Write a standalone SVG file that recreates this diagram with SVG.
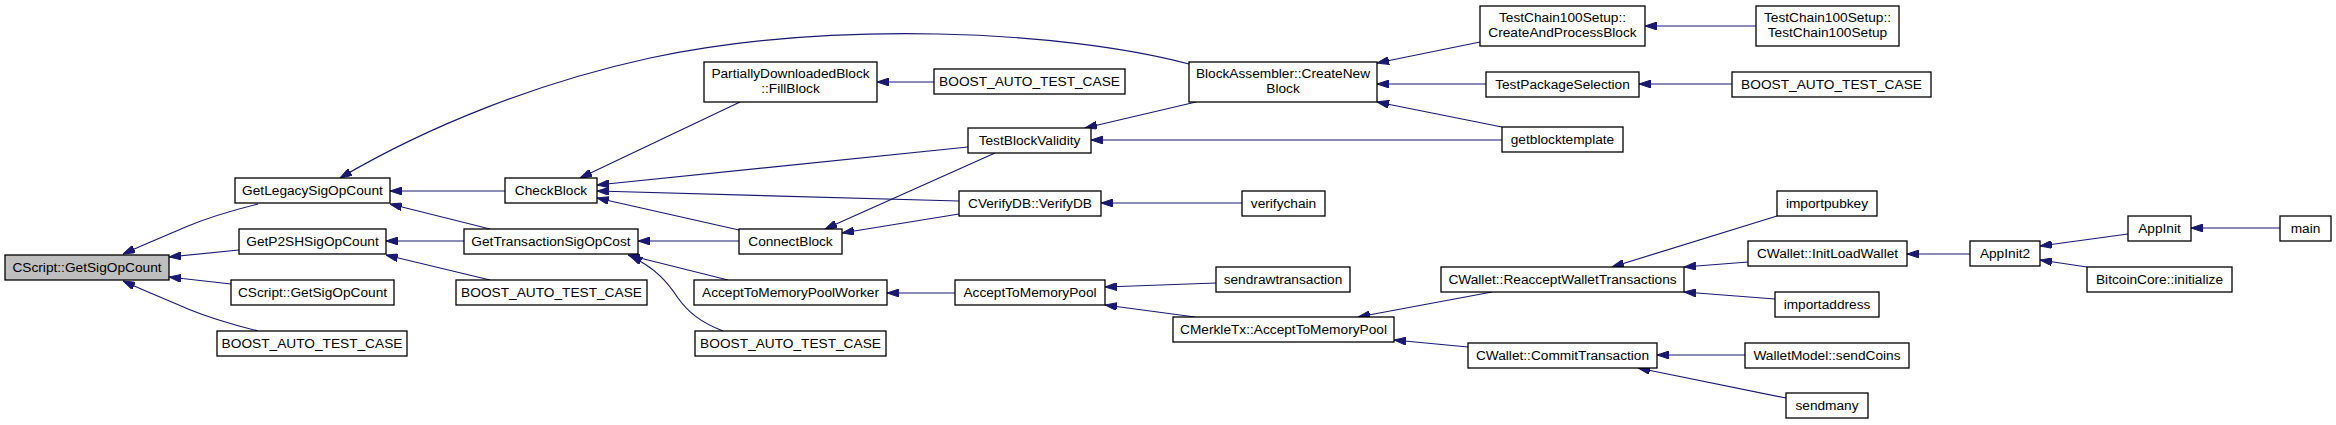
<svg xmlns="http://www.w3.org/2000/svg" width="2336" height="425" viewBox="0 0 2336 425">
<style>
.n rect{fill:#ffffff;stroke:#000000;stroke-width:1.3}
.n.root rect{fill:#bfbfbf}
.n text{font-family:"Liberation Sans",Arial,sans-serif;font-size:13.7px;fill:#000000;text-anchor:middle}
.e path{fill:none;stroke:#191970;stroke-width:1.2;marker-end:url(#ah)}
</style>
<defs>
<marker id="ah" markerUnits="userSpaceOnUse" markerWidth="12" markerHeight="8" viewBox="0 0 12 8" refX="12" refY="4" orient="auto">
<path d="M0,0 L12,4 L0,8 z" fill="#191970" stroke="#191970" stroke-width="1"/>
</marker>
</defs>
<rect x="0" y="0" width="2336" height="425" fill="#ffffff"/>
<g id="edges" class="e">
<path d="M258,204 C230,211 205,219 188,226 C165,236 145,244 123,254"/>
<path d="M239,250 L169,257"/>
<path d="M231,284 L169,277"/>
<path d="M258,331 C230,324 205,316 188,309 C165,299 145,291 123,281"/>
<path d="M1189,64 C1060,30 830,20 650,58 C540,82 430,125 340,178"/>
<path d="M505,191 L390,191"/>
<path d="M490,229 L390,204"/>
<path d="M464,241 L386,241"/>
<path d="M490,280 L386,255"/>
<path d="M740,102 L580,178"/>
<path d="M968,147 L597,185"/>
<path d="M959,201 L597,191"/>
<path d="M739,230 L597,198"/>
<path d="M739,241 L638,241"/>
<path d="M728,280 L628,255"/>
<path d="M723,331 C700,322 688,312 678,298 C668,283 656,268 630,256"/>
<path d="M995,153 L825,229"/>
<path d="M959,214 L842,233"/>
<path d="M934,82 L877,82"/>
<path d="M1196,102 L1085,128"/>
<path d="M1502,140 L1091,140"/>
<path d="M1242,203 L1101,203"/>
<path d="M955,293 L887,293"/>
<path d="M1216,283 L1105,287"/>
<path d="M1195,317 L1105,305"/>
<path d="M1480,42 L1377,63"/>
<path d="M1486,84 L1377,84"/>
<path d="M1502,127 L1377,102"/>
<path d="M1756,26 L1645,26"/>
<path d="M1732,84 L1639,84"/>
<path d="M1492,292 L1358,317"/>
<path d="M1468,347 L1394,340"/>
<path d="M1777,216 L1612,267"/>
<path d="M1748,262 L1684,267"/>
<path d="M1775,299 L1684,292"/>
<path d="M1745,355 L1657,355"/>
<path d="M1786,398 L1638,368"/>
<path d="M1970,254 L1907,254"/>
<path d="M2128,234 L2040,246"/>
<path d="M2087,267 L2040,260"/>
<path d="M2280,228 L2191,228"/>
</g>
<g id="n0" class="n root"><rect x="5" y="255" width="164" height="25"/><text x="87" y="272">CScript::GetSigOpCount</text></g>
<g id="n1" class="n"><rect x="235" y="178" width="155" height="25"/><text x="312.5" y="195">GetLegacySigOpCount</text></g>
<g id="n2" class="n"><rect x="239" y="229" width="147" height="25"/><text x="312.5" y="246">GetP2SHSigOpCount</text></g>
<g id="n3" class="n"><rect x="231" y="280" width="163" height="25"/><text x="312.5" y="297">CScript::GetSigOpCount</text></g>
<g id="n4" class="n"><rect x="217" y="331" width="190" height="25"/><text x="312" y="348">BOOST_AUTO_TEST_CASE</text></g>
<g id="n5" class="n"><rect x="505" y="178" width="92" height="25"/><text x="551" y="195">CheckBlock</text></g>
<g id="n6" class="n"><rect x="464" y="229" width="174" height="25"/><text x="551" y="246">GetTransactionSigOpCost</text></g>
<g id="n7" class="n"><rect x="456" y="280" width="191" height="25"/><text x="551.5" y="297">BOOST_AUTO_TEST_CASE</text></g>
<g id="n8" class="n"><rect x="704" y="62" width="173" height="40"/><text x="790.5" y="78">PartiallyDownloadedBlock</text><text x="790.5" y="93">::FillBlock</text></g>
<g id="n9" class="n"><rect x="968" y="128" width="123" height="25"/><text x="1029.5" y="145">TestBlockValidity</text></g>
<g id="n10" class="n"><rect x="959" y="191" width="142" height="25"/><text x="1030" y="208">CVerifyDB::VerifyDB</text></g>
<g id="n11" class="n"><rect x="739" y="229" width="103" height="25"/><text x="790.5" y="246">ConnectBlock</text></g>
<g id="n12" class="n"><rect x="694" y="280" width="193" height="25"/><text x="790.5" y="297">AcceptToMemoryPoolWorker</text></g>
<g id="n13" class="n"><rect x="695" y="331" width="191" height="25"/><text x="790.5" y="348">BOOST_AUTO_TEST_CASE</text></g>
<g id="n14" class="n"><rect x="934" y="69" width="191" height="25"/><text x="1029.5" y="86">BOOST_AUTO_TEST_CASE</text></g>
<g id="n15" class="n"><rect x="1189" y="62" width="188" height="40"/><text x="1283" y="78">BlockAssembler::CreateNew</text><text x="1283" y="93">Block</text></g>
<g id="n16" class="n"><rect x="1502" y="127" width="121" height="25"/><text x="1562.5" y="144">getblocktemplate</text></g>
<g id="n17" class="n"><rect x="1242" y="191" width="83" height="25"/><text x="1283.5" y="208">verifychain</text></g>
<g id="n18" class="n"><rect x="955" y="280" width="150" height="25"/><text x="1030" y="297">AcceptToMemoryPool</text></g>
<g id="n19" class="n"><rect x="1216" y="267" width="134" height="25"/><text x="1283" y="284">sendrawtransaction</text></g>
<g id="n20" class="n"><rect x="1173" y="317" width="221" height="25"/><text x="1283.5" y="334">CMerkleTx::AcceptToMemoryPool</text></g>
<g id="n21" class="n"><rect x="1480" y="6" width="165" height="40"/><text x="1562.5" y="22">TestChain100Setup::</text><text x="1562.5" y="37">CreateAndProcessBlock</text></g>
<g id="n22" class="n"><rect x="1486" y="72" width="153" height="25"/><text x="1562.5" y="89">TestPackageSelection</text></g>
<g id="n23" class="n"><rect x="1756" y="6" width="143" height="40"/><text x="1827.5" y="22">TestChain100Setup::</text><text x="1827.5" y="37">TestChain100Setup</text></g>
<g id="n24" class="n"><rect x="1732" y="72" width="199" height="25"/><text x="1831.5" y="89">BOOST_AUTO_TEST_CASE</text></g>
<g id="n25" class="n"><rect x="1441" y="267" width="243" height="25"/><text x="1562.5" y="284">CWallet::ReacceptWalletTransactions</text></g>
<g id="n26" class="n"><rect x="1468" y="343" width="189" height="25"/><text x="1562.5" y="360">CWallet::CommitTransaction</text></g>
<g id="n27" class="n"><rect x="1777" y="191" width="100" height="25"/><text x="1827" y="208">importpubkey</text></g>
<g id="n28" class="n"><rect x="1748" y="241" width="159" height="25"/><text x="1827.5" y="258">CWallet::InitLoadWallet</text></g>
<g id="n29" class="n"><rect x="1775" y="292" width="104" height="25"/><text x="1827" y="309">importaddress</text></g>
<g id="n30" class="n"><rect x="1745" y="343" width="164" height="25"/><text x="1827" y="360">WalletModel::sendCoins</text></g>
<g id="n31" class="n"><rect x="1786" y="393" width="82" height="25"/><text x="1827" y="410">sendmany</text></g>
<g id="n32" class="n"><rect x="1970" y="241" width="70" height="25"/><text x="2005" y="258">AppInit2</text></g>
<g id="n33" class="n"><rect x="2128" y="216" width="63" height="25"/><text x="2159.5" y="233">AppInit</text></g>
<g id="n34" class="n"><rect x="2280" y="216" width="51" height="25"/><text x="2305.5" y="233">main</text></g>
<g id="n35" class="n"><rect x="2087" y="267" width="145" height="25"/><text x="2159.5" y="284">BitcoinCore::initialize</text></g>
</svg>
